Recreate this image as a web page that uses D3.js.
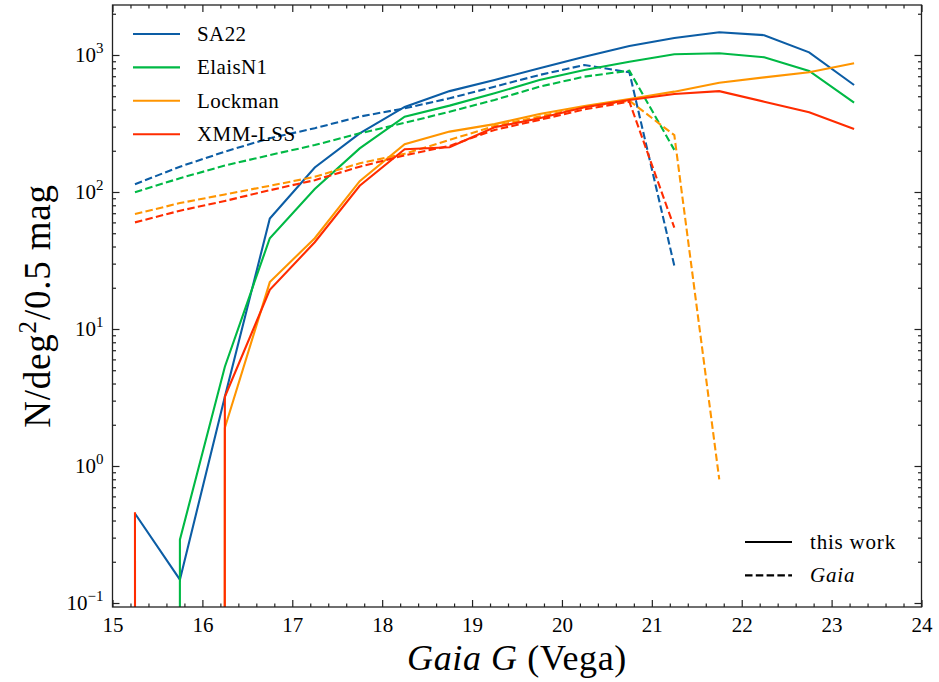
<!DOCTYPE html>
<html>
<head>
<meta charset="utf-8">
<script src="https://cdn.jsdelivr.net/npm/d3@7"></script>
<style>
body { margin: 0; background: #fff; }
svg text { font-family: "Liberation Serif", "DejaVu Serif", serif; fill: #000; }
.axis path { display: none; }
.axis line { stroke: #222; stroke-width: 1.2; }
</style>
</head>
<body>
<svg width="939" height="682"></svg>
<script>
// **** data ****

var mags = [15.25, 15.75, 16.25, 16.75, 17.25, 17.75, 18.25, 18.75, 19.25,
            19.75, 20.25, 20.75, 21.25, 21.75, 22.25, 22.75, 23.25];

var fields = ["SA22", "ElaisN1", "Lockman", "XMM-LSS"];
var colors = ["#0C5DA5", "#00B945", "#FF9500", "#FF2C00"];

// this work (solid), 0 = empty bin
var sa22Work    = [0.45, 0.148, 3.2, 64, 151, 268, 418, 545, 657, 800, 972, 1163, 1330, 1465, 1395, 1046, 604];
var elaisWork   = [0, 0.29, 5.3, 46, 105, 208, 355, 427, 525, 657, 777, 894, 1012, 1029, 962, 764, 449];
var lockmanWork = [0, 0, 1.9, 22, 46, 120, 223, 276, 313, 371, 424, 477, 540, 628, 687, 748, 870];
var xmmWork     = [0.46, 0, 3.2, 19.3, 43, 111, 205, 212, 297, 345, 416, 470, 519, 545, 456, 382, 288];

// Gaia (dashed)
var sa22Gaia    = [114, 153, 197, 247, 292, 355, 408, 483, 587, 715, 845, 748, 29];
var elaisGaia   = [99.6, 126, 156, 186, 220, 268, 320, 385, 470, 587, 695, 768, 203];
var lockmanGaia = [69, 83, 96, 111, 129, 162, 190, 240, 303, 355, 416, 464, 260, 0.8];
var xmmGaia     = [60, 73, 86, 103, 122, 153, 185, 217, 284, 336, 401, 456, 55];

var workSeries = [sa22Work, elaisWork, lockmanWork, xmmWork];
var gaiaSeries = [sa22Gaia, elaisGaia, lockmanGaia, xmmGaia];

var xTicks = [15, 16, 17, 18, 19, 20, 21, 22, 23, 24];
var yTicks = [0.1, 1, 10, 100, 1000];
var yTickExp = ["\u22121", "0", "1", "2", "3"];

// **** scales ****

var marginLeft = 112.5, marginTop = 5, width = 809, height = 602;

var xScale = d3.scaleLinear().domain([15, 24]).range([0, width]);
var yScale = d3.scaleLog().domain([0.0935, 2317]).range([height, 0]);

function scaleMag(m) { return xScale(m); }
function scaleCount(n) {
    // log axis: empty bins drop far below the frame (clipped)
    return n > 0 ? yScale(n) : height + 100000;
}

var svg = d3.select("svg");
var g = svg.append("g").attr("transform", "translate(" + marginLeft + "," + marginTop + ")");

g.append("clipPath").attr("id", "plotclip")
    .append("rect").attr("width", width).attr("height", height);

// **** lines ****

var line = d3.line()
    .x(function(d) { return scaleMag(d[0]); })
    .y(function(d) { return scaleCount(d[1]); });

var lines = g.append("g").attr("clip-path", "url(#plotclip)");

fields.forEach(function(f, i) {
    var solid = workSeries[i].map(function(v, j) { return [mags[j], v]; });
    var dashed = gaiaSeries[i].map(function(v, j) { return [mags[j], v]; });
    lines.append("path").datum(solid)
        .attr("d", line).attr("fill", "none")
        .attr("stroke", colors[i]).attr("stroke-width", 2.1);
    lines.append("path").datum(dashed)
        .attr("d", line).attr("fill", "none")
        .attr("stroke", colors[i]).attr("stroke-width", 2.1)
        .attr("stroke-dasharray", "7.5,3.3");
});

// **** axes, ticks inward on all four sides ****

var xMinor = d3.range(15, 24.001, 0.2).filter(function(v) {
    return Math.abs(v - Math.round(v)) > 0.01;
});
var yMinor = [];
[-2, -1, 0, 1, 2, 3].forEach(function(e) {
    for (var k = 2; k <= 9; k++) {
        var v = k * Math.pow(10, e);
        if (v > 0.0935 && v < 2317) yMinor.push(v);
    }
});

g.append("g").attr("class", "axis")
    .attr("transform", "translate(0," + height + ")")
    .call(d3.axisBottom(xScale).tickValues(xTicks).tickSize(-7).tickPadding(10)
        .tickFormat(function(d) { return d; }))
    .selectAll("text").attr("font-size", 21)
    .style("font-family", '"Liberation Serif", serif');
g.append("g").attr("class", "axis")
    .attr("transform", "translate(0," + height + ")")
    .call(d3.axisBottom(xScale).tickValues(xMinor).tickSize(-3.5).tickFormat(""));
g.append("g").attr("class", "axis")
    .call(d3.axisTop(xScale).tickValues(xTicks).tickSize(-7).tickFormat(""));
g.append("g").attr("class", "axis")
    .call(d3.axisTop(xScale).tickValues(xMinor).tickSize(-3.5).tickFormat(""));

g.append("g").attr("class", "axis")
    .call(d3.axisLeft(yScale).tickValues(yTicks).tickSize(-7).tickFormat(""));
g.append("g").attr("class", "axis")
    .call(d3.axisLeft(yScale).tickValues(yMinor).tickSize(-3.5).tickFormat(""));
g.append("g").attr("class", "axis")
    .attr("transform", "translate(" + width + ",0)")
    .call(d3.axisRight(yScale).tickValues(yTicks).tickSize(-7).tickFormat(""));
g.append("g").attr("class", "axis")
    .attr("transform", "translate(" + width + ",0)")
    .call(d3.axisRight(yScale).tickValues(yMinor).tickSize(-3.5).tickFormat(""));

// y tick labels 10^n
yTicks.forEach(function(v, i) {
    var t = g.append("text")
        .attr("x", -9).attr("y", yScale(v) + 7)
        .attr("text-anchor", "end")
        .attr("font-size", 21);
    t.append("tspan").text("10");
    t.append("tspan").attr("dy", -9).attr("font-size", 15).text(yTickExp[i]);
});

// frame
g.append("rect").attr("width", width).attr("height", height)
    .attr("fill", "none").attr("stroke", "#222").attr("stroke-width", 1.3);

// **** axis labels ****

var xl = svg.append("text")
    .attr("x", marginLeft + width / 2).attr("y", 670)
    .attr("text-anchor", "middle").attr("font-size", 36)
    .attr("letter-spacing", 0.6);
xl.append("tspan").attr("font-style", "italic").text("Gaia G");
xl.append("tspan").text(" (Vega)");

var yl = svg.append("text")
    .attr("transform", "translate(50," + (marginTop + height / 2) + ") rotate(-90)")
    .attr("text-anchor", "middle").attr("font-size", 37)
    .attr("letter-spacing", 0.8);
yl.append("tspan").text("N/deg");
yl.append("tspan").attr("dy", -14).attr("font-size", 25).text("2");
yl.append("tspan").attr("dy", 14).text("/0.5 mag");

// **** legends ****

var leg = svg.append("g");
fields.forEach(function(f, i) {
    var ly = 34 + i * 33.4;
    leg.append("line").attr("x1", 133).attr("x2", 180).attr("y1", ly).attr("y2", ly)
        .attr("stroke", colors[i]).attr("stroke-width", 2.1);
    leg.append("text").attr("x", 197).attr("y", ly + 7).attr("font-size", 21)
        .attr("letter-spacing", 0.4).text(f);
});

var styleNames = ["this work", "Gaia"];
styleNames.forEach(function(s, i) {
    var ly = 542 + i * 33.4;
    leg.append("line").attr("x1", 745).attr("x2", 792).attr("y1", ly).attr("y2", ly)
        .attr("stroke", "#000").attr("stroke-width", 2.1)
        .attr("stroke-dasharray", i === 1 ? "7.5,3.3" : null);
    leg.append("text").attr("x", 810).attr("y", ly + 7).attr("font-size", 21)
        .attr("letter-spacing", 0.8)
        .attr("font-style", i === 1 ? "italic" : null).text(s);
});
</script>
</body>
</html>
